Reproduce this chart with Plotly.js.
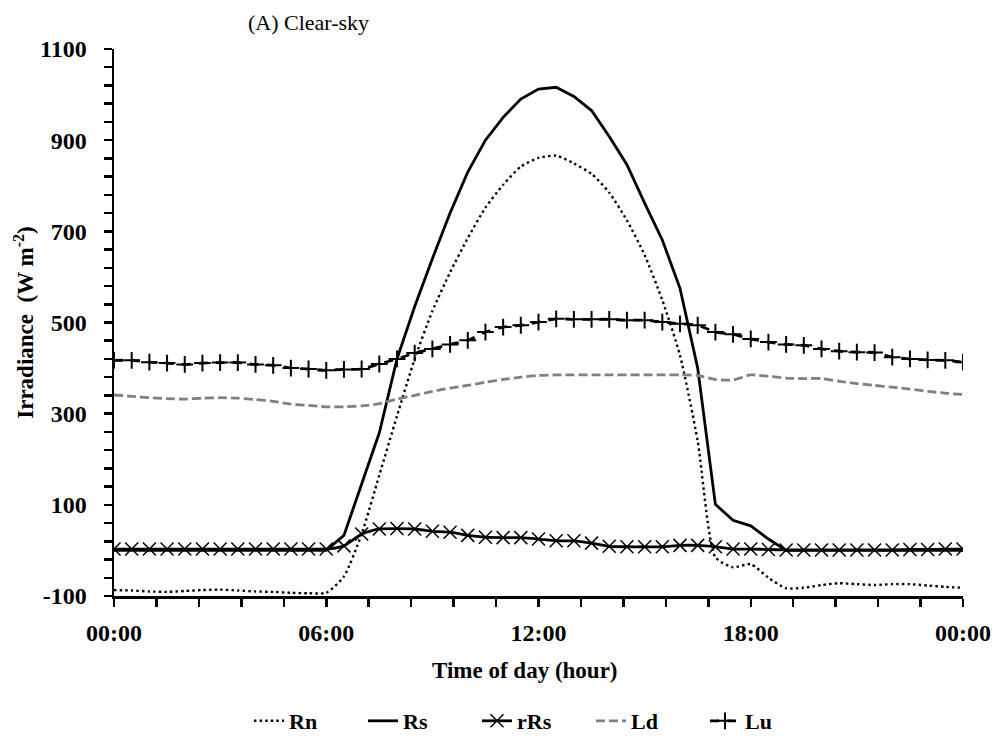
<!DOCTYPE html>
<html>
<head>
<meta charset="utf-8">
<script src="https://cdn.plot.ly/plotly-3.0.1.min.js"></script>
<style>html,body{margin:0;padding:0;background:#fff;}#chart{width:995px;height:736px;}</style>
</head>
<body>
<div id="chart"></div>
<script>
// time of day in hours, every 30 minutes
var hours = [0,0.5,1,1.5,2,2.5,3,3.5,4,4.5,5,5.5,6,6.5,7,7.5,8,8.5,9,9.5,10,10.5,11,11.5,12,12.5,13,13.5,14,14.5,15,15.5,16,16.5,17,17.5,18,18.5,19,19.5,20,20.5,21,21.5,22,22.5,23,23.5,24];

var Rn = [-87,-88,-90,-91,-89,-87,-86,-88,-90,-91,-93,-94,-93,-57,36,165,295,420,525,610,685,752,802,842,861,866,849,826,785,724,648,549,428,240,-15,-37,-30,-60,-83,-82,-76,-72,-74,-76,-74,-74,-77,-80,-82];
var Rs = [0,0,0,0,0,0,0,0,0,0,0,0,0,33,148,258,420,535,640,740,830,900,950,990,1012,1016,996,965,908,846,762,681,575,400,101,66,54,25,0,0,0,0,0,0,0,0,0,0,0];
var rRs = [3,3,3,3,3,3,3,3,3,3,3,3,3,10,36,47,48,47,42,40,33,29,28,28,25,21,21,16,9,8,8,8,11,11,8,3,3,2,1,1,1,1,1,1,1,2,2,3,3];
var Ld = [341,338,335,333,332,334,335,334,331,327,321,318,315,315,317,322,332,340,349,356,362,369,375,380,384,385,385,385,385,385,385,385,385,384,375,374,385,382,378,377,377,371,366,362,358,354,349,345,342];
var Lu = [417,417,413,411,408,411,412,412,408,406,400,398,395,397,398,409,420,433,442,452,461,479,490,494,501,508,507,507,507,505,505,501,497,494,479,474,464,457,452,450,442,437,435,434,424,420,418,417,413];

var seriesNames = ['Rn','Rs','rRs','Ld','Lu'];
var xTickVals = [0,6,12,18,24];
var xTickText = ['00:00','06:00','12:00','18:00','00:00'];
var yTickVals = [-100,100,300,500,700,900,1100];
var yTickText = ['-100','100','300','500','700','900','1100'];

function b(s){ return '<b>' + s + '</b>'; }

var traces = [
  {x: hours, y: Rn, name: b(seriesNames[0]), mode: 'lines', line: {color: '#000', width: 2.4, dash: '2.4px,3.2px', shape: 'spline', smoothing: 0.6}},
  {x: hours, y: Rs, name: b(seriesNames[1]), mode: 'lines', line: {color: '#000', width: 2.8}},
  {x: hours, y: rRs, name: b(seriesNames[2]), mode: 'lines+markers', line: {color: '#000', width: 2.8, shape: 'spline', smoothing: 0.6},
   marker: {symbol: 'x-thin-open', size: 13, color: '#000', line: {color: '#000', width: 1.5}}},
  {x: hours, y: Ld, name: b(seriesNames[3]), mode: 'lines', line: {color: '#808080', width: 2.8, dash: '9px,4px', shape: 'spline', smoothing: 0.6}},
  {x: hours, y: Lu, name: b(seriesNames[4]), mode: 'lines+markers', line: {color: '#000', width: 2.8, dash: '9px,8px', shape: 'spline', smoothing: 0.6},
   marker: {symbol: 'cross-thin-open', size: 12, color: '#000', line: {color: '#000', width: 2}}}
];

var font = 'Liberation Serif, Times New Roman, serif';
var layout = {
  width: 995, height: 736,
  margin: {l: 114, r: 32, t: 49, b: 140, autoexpand: false},
  paper_bgcolor: '#fff', plot_bgcolor: '#fff',
  font: {family: font, color: '#000'},
  showlegend: true,
  title: {text: '(A) Clear-sky', font: {family: font, size: 22, color: '#000'}, x: 308.5/995, xanchor: 'center', xref: 'container', y: 1 - 22/736, yanchor: 'middle', yref: 'container'},
  xaxis: {
    range: [0, 24], tickmode: 'array', tickvals: xTickVals, ticktext: xTickText.map(b),
    showline: true, linecolor: '#000', linewidth: 2.5, showgrid: false, zeroline: false,
    ticks: 'outside', ticklen: 8, tickwidth: 2.5, tickcolor: '#000', ticklabelstandoff: 6,
    tickfont: {family: font, size: 24, color: '#000'},
    minor: {tickmode: 'linear', tick0: 0, dtick: 1.2, ticks: 'outside', ticklen: 8, tickwidth: 2.5, tickcolor: '#000', showgrid: false}
  },
  yaxis: {
    range: [-100, 1100], tickmode: 'array', tickvals: yTickVals, ticktext: yTickText.map(b),
    showline: true, linecolor: '#000', linewidth: 2.5, showgrid: false, zeroline: false,
    ticks: 'outside', ticklen: 8, tickwidth: 2.5, tickcolor: '#000', ticklabelstandoff: 12,
    tickfont: {family: font, size: 24, color: '#000'},
    minor: {tickmode: 'linear', tick0: -100, dtick: 40, ticks: 'outside', ticklen: 8, tickwidth: 2.5, tickcolor: '#000', showgrid: false},
    title: {text: '<b>Irradiance  (W m<sup>-2</sup>)</b>', font: {family: font, size: 23, color: '#000'}, standoff: 0}
  },
  annotations: [
    {text: '<b>Time of day (hour)</b>', xref: 'paper', yref: 'paper', x: (525 - 114) / 849, y: (596 - 670) / 547,
     xanchor: 'center', yanchor: 'middle', showarrow: false, font: {family: font, size: 23, color: '#000'}}
  ],
  legend: {orientation: 'h', x: (534 - 114) / 849, xanchor: 'center', y: (596 - 721) / 547, yanchor: 'middle',
    font: {family: font, size: 22, color: '#000'}, entrywidth: 69, entrywidthmode: 'pixels', bgcolor: 'rgba(0,0,0,0)'}
};

Plotly.newPlot('chart', traces, layout, {displayModeBar: false, staticPlot: true});
</script>
</body>
</html>
